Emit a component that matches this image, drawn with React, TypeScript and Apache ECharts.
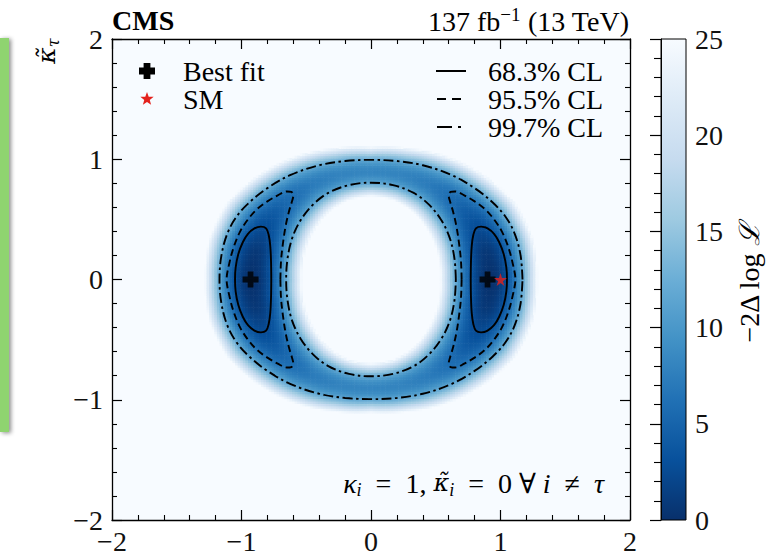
import React, { useEffect, useRef } from 'react';
import * as echarts from 'echarts';

// ---------- data ----------
// colour map (Blues, reversed): 0 -> dark, 25 -> white
const cmapColors = ['#08306b', '#08519c', '#2171b5', '#4292c6', '#6baed6', '#9ecae1', '#c6dbef', '#deebf7', '#f7fbff'];
const zRange = [0, 25];
const cbarTicks = [0, 5, 10, 15, 20, 25];
const axisRange = [-2, 2];

// radial profile of -2ΔlogL along rays from the origin (first quadrant, mirrored)
const profAngles = [0, 15, 30, 45, 60, 75, 90]; // degrees
const profMin = [0, 0.8, 3.0, 5.5, 7.2, 8.0, 8.2]; // minimum along the ray
const profCenter = [0.92, 0.92, 0.925, 0.92, 0.915, 0.905, 0.9]; // radius of that minimum
const profInner = [0.655, 0.667, 0.7, 0.74, 0.78, 0.8, 0.805]; // inner 99.7% radius
const profOuter = [1.17, 1.173, 1.152, 1.098, 1.052, 1.013, 0.995]; // outer 99.7% radius
const q997 = 11.83;

// contours (kappa_tau, kappa_tilde_tau)
const outer997Quarter = [
  [1.17, 0], [1.155, 0.2], [1.11, 0.38], [1.04, 0.52], [0.94, 0.64], [0.8, 0.76],
  [0.62, 0.87], [0.4, 0.95], [0.2, 0.985], [0, 0.995],
];
const inner997Quarter = [
  [0.655, 0], [0.645, 0.17], [0.61, 0.34], [0.545, 0.49], [0.45, 0.62], [0.33, 0.72],
  [0.17, 0.785], [0, 0.805],
];
const cl955LeftHalf = [
  [-0.7, 0], [-0.695, 0.15], [-0.68, 0.3], [-0.66, 0.44], [-0.635, 0.56], [-0.61, 0.65],
  [-0.6, 0.7], [-0.615, 0.728], [-0.65, 0.732], [-0.72, 0.7], [-0.8, 0.65], [-0.88, 0.585],
  [-0.95, 0.5], [-1.01, 0.4], [-1.06, 0.27], [-1.095, 0.13], [-1.115, 0],
];
const cl683LeftHalf = [
  [-0.77, 0], [-0.772, 0.15], [-0.778, 0.28], [-0.79, 0.37], [-0.81, 0.425], [-0.85, 0.44],
  [-0.9, 0.425], [-0.95, 0.38], [-0.99, 0.31], [-1.025, 0.21], [-1.045, 0.1], [-1.05, 0],
];
const bestFit = [[-0.93, 0], [0.9, 0]];
const smPoint = [[1.0, 0]];

const legendMarkers = ['Best fit', 'SM'];
const legendLines = ['68.3% CL', '95.5% CL', '99.7% CL'];

// ---------- helpers ----------
const FONT = '"Liberation Serif", "DejaVu Serif", serif';
const MFONT = '"DejaVu Serif", serif';
const FS = 28;

function loopFromQuarter(q: number[][]) {
  return [
    ...q,
    ...q.slice(0, -1).reverse().map(([x, y]) => [-x, y]),
    ...q.slice(1).map(([x, y]) => [-x, -y]),
    ...q.slice(0, -1).reverse().map(([x, y]) => [x, -y]),
  ];
}
function loopFromHalf(h: number[][]) {
  return [...h, ...h.slice(0, -1).reverse().map(([x, y]) => [x, -y])];
}
const flipX = (pts: number[][]) => pts.map(([x, y]) => [-x, y]);

function interp(xs: number[], ys: number[], v: number) {
  if (v <= xs[0]) return ys[0];
  for (let i = 1; i < xs.length; i++) {
    if (v <= xs[i]) {
      const t = (v - xs[i - 1]) / (xs[i] - xs[i - 1]);
      return ys[i - 1] + t * (ys[i] - ys[i - 1]);
    }
  }
  return ys[ys.length - 1];
}

function fieldValue(x: number, y: number) {
  const ax = Math.abs(x), ay = Math.abs(y);
  const r = Math.hypot(ax, ay);
  const th = (Math.atan2(ay, ax) * 180) / Math.PI;
  const qm = interp(profAngles, profMin, th);
  const rc = interp(profAngles, profCenter, th);
  const ri = interp(profAngles, profInner, th);
  const ro = interp(profAngles, profOuter, th);
  const t = r >= rc ? (r - rc) / (ro - rc) : (rc - r) / (rc - ri);
  return qm + (q997 - qm) * t * t;
}

const CELL = 0.02;
const heatData: number[][] = [];
for (let i = -75; i <= 75; i++) {
  for (let j = -68; j <= 68; j++) {
    const x = i * CELL, y = j * CELL;
    const q = fieldValue(x, y);
    if (q < zRange[1]) heatData.push([x, y, q]);
  }
}

const minusFmt = (v: number) => (v < 0 ? '\u2212' + Math.abs(v) : String(v));

const frameAxis = {
  type: 'value',
  min: axisRange[0],
  max: axisRange[1],
  interval: 1,
  z: 5,
  axisLine: { show: true, onZero: false, lineStyle: { color: '#000', width: 1.3 } },
  axisTick: { show: true, inside: true, length: 10, lineStyle: { color: '#000', width: 1.2 } },
  minorTick: { show: true, splitNumber: 5, length: 5, lineStyle: { color: '#000', width: 1.1 } },
  splitLine: { show: false },
  minorSplitLine: { show: false },
};
const frameLabel = { fontFamily: FONT, fontSize: FS, color: '#111', formatter: minusFmt, showMinLabel: true, showMaxLabel: true };

function plusPoints(cx: number, cy: number, L: number, w: number) {
  return [
    [cx - w, cy - L], [cx + w, cy - L], [cx + w, cy - w], [cx + L, cy - w], [cx + L, cy + w],
    [cx + w, cy + w], [cx + w, cy + L], [cx - w, cy + L], [cx - w, cy + w], [cx - L, cy + w],
    [cx - L, cy - w], [cx - w, cy - w],
  ];
}
function starPoints(cx: number, cy: number, R: number, r: number) {
  const pts: number[][] = [];
  for (let k = 0; k < 10; k++) {
    const a = -Math.PI / 2 + (k * Math.PI) / 5;
    const rr = k % 2 === 0 ? R : r;
    pts.push([cx + rr * Math.cos(a), cy + rr * Math.sin(a)]);
  }
  return pts;
}

const PLUS_PATH = 'path://M3.2,0H6.8V3.2H10V6.8H6.8V10H3.2V6.8H0V3.2H3.2Z';
const STAR_PATH = 'path://M50,0L61,35L98,35L68,57L79,91L50,70L21,91L32,57L2,35L39,35Z';

const DASHED = [7, 4];
const DASHDOT = [10, 3.5, 2.5, 3.5];

function contour(data: number[][], type: any) {
  return {
    type: 'line',
    xAxisIndex: 0,
    yAxisIndex: 0,
    data,
    smooth: 0.35,
    symbol: 'none',
    showSymbol: false,
    silent: true,
    z: 3,
    lineStyle: { color: '#000', width: 1.9, type },
  };
}

const cbarGradientStops = cmapColors.map((c, i) => ({ offset: i / (cmapColors.length - 1), color: c }));

const legendRowsY = [71, 99, 127];
const SP = '\u2002';

const option: any = {
  animation: false,
  backgroundColor: '#ffffff',
  grid: [
    { left: 112, top: 39, width: 518, height: 481, show: true, backgroundColor: '#f7fbff', borderWidth: 0 },
    { left: 661, top: 39, width: 25, height: 481 },
  ],
  xAxis: [
    { ...frameAxis, gridIndex: 0, position: 'bottom', axisLabel: { ...frameLabel, margin: 7 } },
    { ...frameAxis, gridIndex: 0, position: 'top', axisLabel: { show: false } },
    { type: 'value', gridIndex: 1, min: 0, max: 1, show: false },
  ],
  yAxis: [
    { ...frameAxis, gridIndex: 0, position: 'left', axisLabel: { ...frameLabel, margin: 9 } },
    { ...frameAxis, gridIndex: 0, position: 'right', axisLabel: { show: false } },
    {
      type: 'value', gridIndex: 1, min: zRange[0], max: zRange[1], interval: 5, position: 'right', z: 5,
      axisLine: { show: true, lineStyle: { color: '#000', width: 1 } },
      axisTick: { show: true, inside: true, length: 11, lineStyle: { color: '#000', width: 1.2 } },
      minorTick: { show: true, splitNumber: 5, length: 7, lineStyle: { color: '#000', width: 1.1 } },
      splitLine: { show: false },
      axisLabel: { fontFamily: FONT, fontSize: FS, color: '#111', margin: 9, showMinLabel: true, showMaxLabel: true,
        formatter: (v: number) => (cbarTicks.includes(v) ? String(v) : '') },
    },
  ],
  visualMap: {
    type: 'continuous', show: false, min: zRange[0], max: zRange[1], dimension: 2, seriesIndex: 0,
    inRange: { color: cmapColors },
  },
  series: [
    {
      type: 'custom',
      xAxisIndex: 0,
      yAxisIndex: 0,
      data: heatData,
      encode: { x: 0, y: 1 },
      silent: true,
      z: 1,
      renderItem: (params: any, api: any) => {
        const x = api.value(0), y = api.value(1);
        const p0 = api.coord([x - CELL / 2, y + CELL / 2]);
        const p1 = api.coord([x + CELL / 2, y - CELL / 2]);
        return {
          type: 'rect',
          shape: { x: p0[0], y: p0[1], width: p1[0] - p0[0] + 0.6, height: p1[1] - p0[1] + 0.6 },
          style: { fill: api.visual('color') },
        };
      },
    },
    {
      type: 'custom',
      xAxisIndex: 2,
      yAxisIndex: 2,
      data: [[0, zRange[0], 1, zRange[1]]],
      silent: true,
      z: 1,
      renderItem: (params: any, api: any) => {
        const p0 = api.coord([api.value(0), api.value(3)]);
        const p1 = api.coord([api.value(2), api.value(1)]);
        return {
          type: 'rect',
          shape: { x: p0[0], y: p0[1], width: p1[0] - p0[0], height: p1[1] - p0[1] },
          style: {
            fill: new echarts.graphic.LinearGradient(0, 1, 0, 0, cbarGradientStops),
            stroke: '#000',
            lineWidth: 1,
          },
        };
      },
    },
    contour(loopFromQuarter(outer997Quarter), DASHDOT),
    contour(loopFromQuarter(inner997Quarter), DASHDOT),
    contour(loopFromHalf(cl955LeftHalf), DASHED),
    contour(flipX(loopFromHalf(cl955LeftHalf)), DASHED),
    contour(loopFromHalf(cl683LeftHalf), 'solid'),
    contour(flipX(loopFromHalf(cl683LeftHalf)), 'solid'),
    {
      type: 'scatter', xAxisIndex: 0, yAxisIndex: 0, data: bestFit, symbol: PLUS_PATH, symbolSize: 16,
      itemStyle: { color: '#000' }, z: 4, silent: true,
    },
    {
      type: 'scatter', xAxisIndex: 0, yAxisIndex: 0, data: smPoint, symbol: STAR_PATH, symbolSize: 13,
      itemStyle: { color: '#e3211c' }, z: 4, silent: true,
    },
  ],
  graphic: [
    {
      type: 'rect', shape: { x: 0, y: 38, width: 9, height: 394 },
      style: { fill: '#8fd46f', shadowBlur: 4, shadowColor: 'rgba(0,0,0,0.45)', shadowOffsetX: 2, shadowOffsetY: 1 },
    },
    { type: 'text', x: 112, y: 20, style: { text: 'CMS', font: `bold ${FS}px ${FONT}`, fill: '#000', verticalAlign: 'middle' } },
    {
      type: 'text', x: 629, y: 21,
      style: {
        text: '{a|137 fb}{s|\u22121}{a| (13 TeV)}', align: 'right', verticalAlign: 'middle', fill: '#000',
        rich: {
          a: { fontFamily: FONT, fontSize: FS, lineHeight: 32, fill: '#000' },
          s: { fontFamily: FONT, fontSize: 19, lineHeight: 19, verticalAlign: 'top', fill: '#000' },
        },
      },
    },
    {
      type: 'text', x: 46, y: 51, rotation: Math.PI / 2,
      style: {
        text: '{a|\u03ba\u0303}{s|\u03c4}', align: 'center', verticalAlign: 'middle',
        rich: {
          a: { fontFamily: MFONT, fontSize: 25, fontStyle: 'italic', lineHeight: 30, fill: '#000' },
          s: { fontFamily: MFONT, fontSize: 16, fontStyle: 'italic', lineHeight: 16, verticalAlign: 'bottom', fill: '#000' },
        },
      },
    },
    {
      type: 'text', x: 749, y: 283, rotation: Math.PI / 2,
      style: {
        text: '{n|\u22122\u0394 log }{i|\u2112}', align: 'center', verticalAlign: 'middle',
        rich: {
          n: { fontFamily: FONT, fontSize: FS, fill: '#000' },
          i: { fontFamily: FONT, fontSize: FS, fontStyle: 'italic', fill: '#000' },
        },
      },
    },
    // marker legend
    { type: 'polygon', shape: { points: plusPoints(147, legendRowsY[0], 8, 3.4) }, style: { fill: '#000' } },
    { type: 'polygon', shape: { points: starPoints(147, legendRowsY[1], 7, 2.9) }, style: { fill: '#e3211c' } },
    { type: 'text', x: 183, y: legendRowsY[0], style: { text: legendMarkers[0], font: `${FS}px ${FONT}`, fill: '#000', verticalAlign: 'middle' } },
    { type: 'text', x: 183, y: legendRowsY[1], style: { text: legendMarkers[1], font: `${FS}px ${FONT}`, fill: '#000', verticalAlign: 'middle' } },
    // line legend
    { type: 'line', shape: { x1: 436, y1: legendRowsY[0], x2: 466, y2: legendRowsY[0] }, style: { stroke: '#000', lineWidth: 2 } },
    { type: 'line', shape: { x1: 437, y1: legendRowsY[1], x2: 466, y2: legendRowsY[1] }, style: { stroke: '#000', lineWidth: 2, lineDash: [9, 6] } },
    { type: 'line', shape: { x1: 437, y1: legendRowsY[2], x2: 466, y2: legendRowsY[2] }, style: { stroke: '#000', lineWidth: 2, lineDash: [15, 6, 3, 10] } },
    ...legendLines.map((t, k) => ({
      type: 'text', x: 488, y: legendRowsY[k], style: { text: t, font: `${FS}px ${FONT}`, fill: '#000', verticalAlign: 'middle' },
    })),
    {
      type: 'text', x: 604, y: 483,
      style: {
        text: `{i|\u03ba}{s|i}{n|${SP}=${SP}1, }{t|\u03ba\u0303}{s|i}{n|${SP}=${SP}0 \u2200 }{i|i}{n|${SP}\u2260${SP}}{i|\u03c4}`,
        align: 'right', verticalAlign: 'middle',
        rich: {
          i: { fontFamily: FONT, fontSize: FS, fontStyle: 'italic', lineHeight: 32, fill: '#000' },
          t: { fontFamily: MFONT, fontSize: 24, fontStyle: 'italic', lineHeight: 32, fill: '#000' },
          n: { fontFamily: FONT, fontSize: FS, lineHeight: 32, fill: '#000' },
          s: { fontFamily: FONT, fontSize: 18, fontStyle: 'italic', lineHeight: 18, verticalAlign: 'bottom', fill: '#000' },
        },
      },
    },
  ],
};

export default function App() {
  const ref = useRef<HTMLDivElement>(null);
  useEffect(() => {
    document.body.style.margin = '0';
    const chart = echarts.init(ref.current!, null, { renderer: 'svg' });
    chart.setOption(option);
    return () => chart.dispose();
  }, []);
  return <div ref={ref} style={{ width: 781, height: 555 }} />;
}
